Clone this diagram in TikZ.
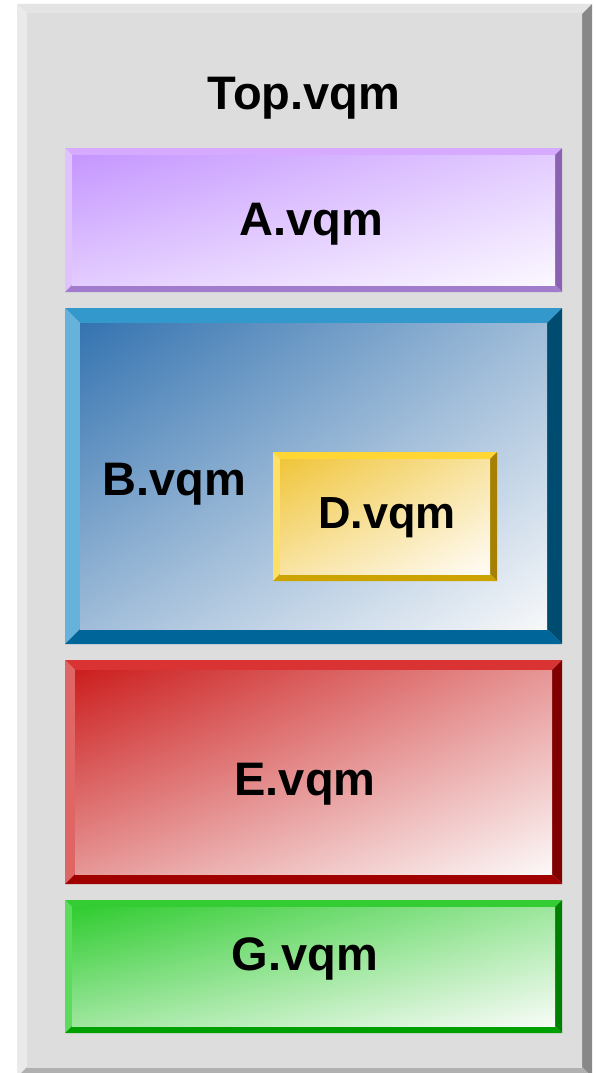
\documentclass[tikz,border=0pt]{standalone}
\usepackage{fontspec}
\setmainfont{Liberation Sans}
\usetikzlibrary{positioning,shadings}

% bevel colours: top, left, right, bottom, face and where the face fades to
\definecolor{Otop}{HTML}{E4E4E4}\definecolor{Oleft}{HTML}{EAEAEA}
\definecolor{Oright}{HTML}{888888}\definecolor{Obot}{HTML}{B0B0B0}
\definecolor{Oface}{HTML}{DDDDDD}\definecolor{Ofade}{HTML}{DDDDDD}
\definecolor{Atop}{HTML}{D6ABFF}\definecolor{Aleft}{HTML}{E0C2FF}
\definecolor{Aright}{HTML}{8A62B2}\definecolor{Abot}{HTML}{A27CCC}
\definecolor{Aface}{HTML}{C596FF}\definecolor{Afade}{HTML}{FBF8FF}
\definecolor{Btop}{HTML}{3399CC}\definecolor{Bleft}{HTML}{66B2DA}
\definecolor{Bright}{HTML}{004C70}\definecolor{Bbot}{HTML}{006699}
\definecolor{Bface}{HTML}{3473B0}\definecolor{Bfade}{HTML}{F7F8FA}
\definecolor{Dtop}{HTML}{FFD633}\definecolor{Dleft}{HTML}{FFE066}
\definecolor{Dright}{HTML}{A68000}\definecolor{Dbot}{HTML}{CCA300}
\definecolor{Dface}{HTML}{F0C53A}\definecolor{Dfade}{HTML}{FFFCF7}
\definecolor{Etop}{HTML}{D93333}\definecolor{Eleft}{HTML}{E06666}
\definecolor{Eright}{HTML}{800000}\definecolor{Ebot}{HTML}{A00000}
\definecolor{Eface}{HTML}{CC1E1E}\definecolor{Efade}{HTML}{FCF8F8}
\definecolor{Gtop}{HTML}{33CC33}\definecolor{Gleft}{HTML}{5CDC5C}
\definecolor{Gright}{HTML}{008000}\definecolor{Gbot}{HTML}{00A000}
\definecolor{Gface}{HTML}{30CC30}\definecolor{Gfade}{HTML}{F8FCF8}

% #1 colour prefix, #2/#3 top left, #4/#5 bottom right, #6 bevel width
\newcommand{\bevelbox}[6]{%
  \fill[#1top] (#2,#3) -- (#4,#3) -- (#4-#6,#3+#6) -- (#2+#6,#3+#6) -- cycle;
  \fill[#1left] (#2,#3) -- (#2+#6,#3+#6) -- (#2+#6,#5-#6) -- (#2,#5) -- cycle;
  \fill[#1right] (#4,#3) -- (#4,#5) -- (#4-#6,#5-#6) -- (#4-#6,#3+#6) -- cycle;
  \fill[#1bot] (#2,#5) -- (#2+#6,#5-#6) -- (#4-#6,#5-#6) -- (#4,#5) -- cycle;
  \shade[upper left=#1face, lower right=#1fade,
         upper right=#1face!45!#1fade, lower left=#1face!45!#1fade]
    (#2+#6,#3+#6) rectangle (#4-#6,#5-#6);}

\begin{document}
\begin{tikzpicture}
    [x=1pt,y=-1pt,
     vqm/.style={anchor=base,inner sep=0pt,font=\bfseries\fontsize{47}{50}\selectfont}]
    \clip (0,0) rectangle (596,1073);
    \fill[white] (0,0) rectangle (596,1073);
    \bevelbox{O}{17}{4}{592}{1077}{10}
    \bevelbox{A}{65}{148}{562}{292}{7}
    \bevelbox{B}{65}{308}{562}{644}{15}
    \bevelbox{D}{273}{452}{497}{581}{7}
    \bevelbox{E}{65}{660}{562}{884}{10}
    \bevelbox{G}{65}{900}{562}{1033}{7}
    \node [vqm] (top) at (304,109) {Top.vqm};
    \node [vqm] (a) at (311,235) {A.vqm};
    \node [vqm] (b) at (174,495) {B.vqm};
    \node [vqm,font=\bfseries\fontsize{45}{50}\selectfont] (d) at (387,528) {D.vqm};
    \node [vqm] (e) at (305,795) {E.vqm};
    \node [vqm] (g) at (305,970) {G.vqm};
  \end{tikzpicture}
\end{document}
